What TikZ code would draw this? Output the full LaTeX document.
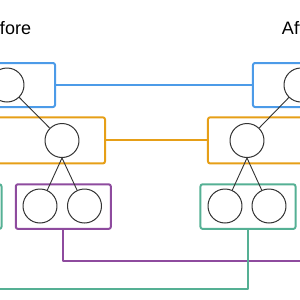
\documentclass[tikz,border=0pt]{standalone}
\usepackage{fontspec}
\setmainfont{Liberation Sans}
\definecolor{levelblue}{HTML}{4C9BE8}
\definecolor{levelorange}{HTML}{E69F17}
\definecolor{levelpurple}{HTML}{8E4B9E}
\definecolor{levelteal}{HTML}{55B094}
\definecolor{treegray}{HTML}{333333}
\tikzset{
  treenode/.style={circle, draw=treegray, line width=1bp, minimum size=34bp, inner sep=0pt},
  treeedge/.style={draw=treegray, line width=0.9bp},
  levelbox/.style={rectangle, rounded corners=2bp, line width=2bp, inner sep=0pt},
  levellink/.style={line width=2bp},
  title/.style={anchor=base, inner sep=0pt, font=\fontsize{18bp}{22bp}\selectfont}
}
\begin{document}
\begin{tikzpicture}[x=1bp, y=1bp, line cap=round, line join=round]
  \useasboundingbox (0,0) rectangle (300,-300);
  \clip (0,0) rectangle (300,-300);
  % titles
  \node[title] (tBefore) at (4.5,-34.5) {Before};
  \node[title] (tAfter) at (301,-34.5) {After};
  % level boxes, before
  \node[levelbox, draw=levelblue, minimum width=96bp, minimum height=44bp] (blueB) at (7,-85) {};
  \node[levelbox, draw=levelorange, minimum width=198bp, minimum height=46bp] (orangeB) at (6,-140.4) {};
  \node[levelbox, draw=levelteal, minimum width=95bp, minimum height=44.5bp] (tealB) at (-46,-206.6) {};
  \node[levelbox, draw=levelpurple, minimum width=95bp, minimum height=44.5bp] (purpleB) at (63.3,-206.6) {};
  % level boxes, after
  \node[levelbox, draw=levelblue, minimum width=96bp, minimum height=44bp] (blueA) at (301,-85) {};
  \node[levelbox, draw=levelorange, minimum width=198bp, minimum height=46bp] (orangeA) at (307,-140.4) {};
  \node[levelbox, draw=levelteal, minimum width=95bp, minimum height=44.5bp] (tealA) at (248,-206.6) {};
  \node[levelbox, draw=levelpurple, minimum width=95bp, minimum height=44.5bp] (purpleA) at (355,-206.6) {};
  % links between levels
  \path[draw=levelblue, levellink] (blueB.east) -- (blueA.west);
  \path[draw=levelorange, levellink] (orangeB.east) -- (orangeA.west);
  \path[draw=levelpurple, levellink] (purpleB.south) -- ++(0,-31.4) -| (purpleA.south);
  \path[draw=levelteal, levellink] (tealA.south) -- ++(0,-59.2) -| (tealB.south);
  % tree before
  \node[treenode] (rB) at (7,-85) {};
  \node[treenode] (lB) at (-46,-140.5) {};
  \node[treenode] (rrB) at (62,-140.5) {};
  \node[treenode] (llB) at (-68,-206) {};
  \node[treenode] (lrB) at (-24,-206) {};
  \node[treenode] (rlB) at (40,-206) {};
  \node[treenode] (rrrB) at (84.5,-206) {};
  \path[treeedge] (rB) -- (lB);
  \path[treeedge] (rB) -- (rrB);
  \path[treeedge] (lB.south) -- (llB);
  \path[treeedge] (lB.south) -- (lrB);
  \path[treeedge] (rrB.south) -- (rlB);
  \path[treeedge] (rrB.south) -- (rrrB);
  % tree after
  \node[treenode] (rA) at (301,-85) {};
  \node[treenode] (lA) at (247,-140.5) {};
  \node[treenode] (rrA) at (355,-140.5) {};
  \node[treenode] (llA) at (225,-206) {};
  \node[treenode] (lrA) at (269,-206) {};
  \node[treenode] (rlA) at (333,-206) {};
  \node[treenode] (rrrA) at (377,-206) {};
  \path[treeedge] (rA) -- (lA);
  \path[treeedge] (rA) -- (rrA);
  \path[treeedge] (lA.south) -- (llA);
  \path[treeedge] (lA.south) -- (lrA);
  \path[treeedge] (rrA.south) -- (rlA);
  \path[treeedge] (rrA.south) -- (rrrA);
\end{tikzpicture}
\end{document}
